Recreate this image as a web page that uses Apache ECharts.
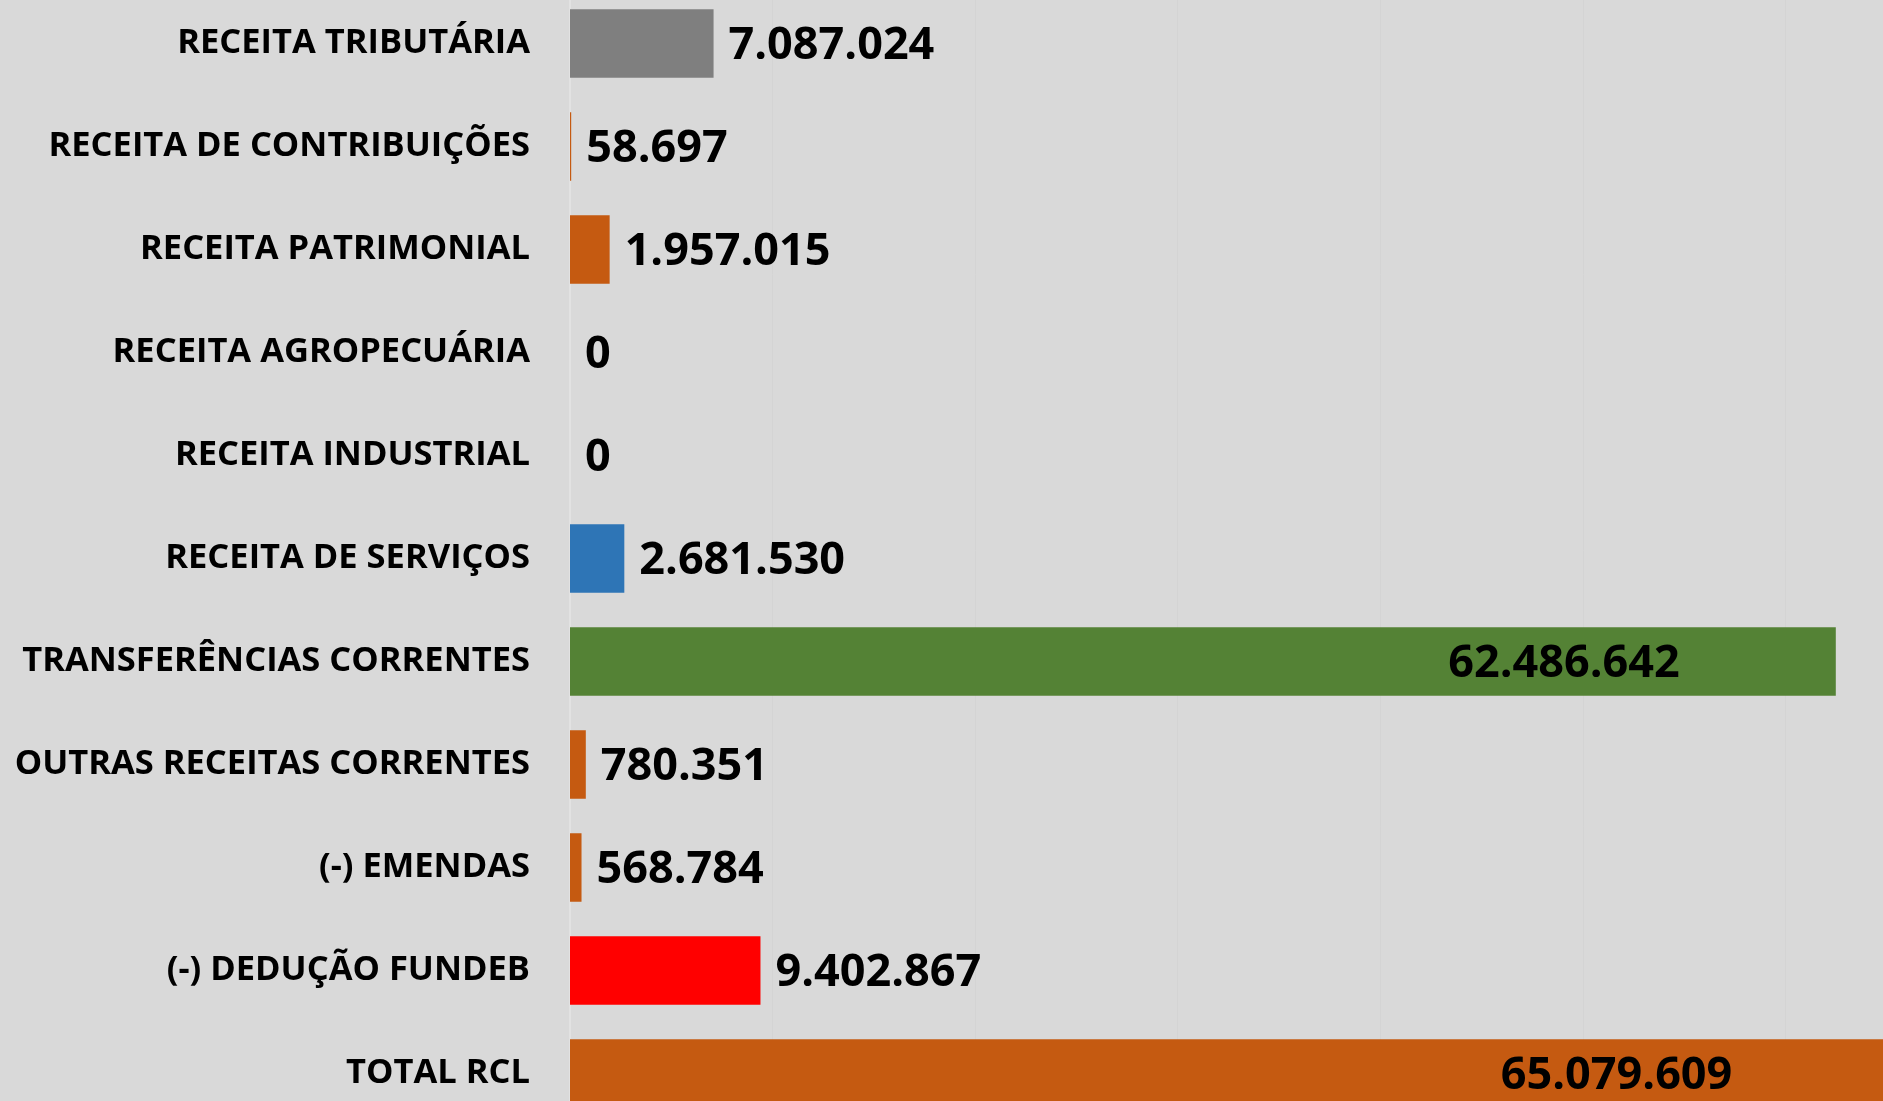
<!DOCTYPE html>
<html>
<head>
<meta charset="utf-8">
<script src="https://cdn.jsdelivr.net/npm/echarts@6/dist/echarts.min.js"></script>
<style>
  html, body { margin: 0; padding: 0; background: #d9d9d9; }
  #chart { width: 1883px; height: 1101px; }
</style>
</head>
<body>
<div id="chart"></div>
<script>
// categorias e valores da RCL
var categories = [
    'RECEITA TRIBUTÁRIA',
    'RECEITA DE CONTRIBUIÇÕES',
    'RECEITA PATRIMONIAL',
    'RECEITA AGROPECUÁRIA',
    'RECEITA INDUSTRIAL',
    'RECEITA DE SERVIÇOS',
    'TRANSFERÊNCIAS CORRENTES',
    'OUTRAS RECEITAS CORRENTES',
    '(-) EMENDAS',
    '(-) DEDUÇÃO FUNDEB',
    'TOTAL RCL'
];
var values = [7087024, 58697, 1957015, 0, 0, 2681530, 62486642, 780351, 568784, 9402867, 65079609];
var barColors = ['#7f7f7f', '#c55a11', '#c55a11', '#c55a11', '#c55a11', '#2e75b6', '#548235', '#c55a11', '#c55a11', '#ff0000', '#c55a11'];
var insideLabels = [6, 10];

function fmt(v) {
    return String(v).replace(/\B(?=(\d{3})+(?!\d))/g, '.');
}

var chart = echarts.init(document.getElementById('chart'));

var option = {
    backgroundColor: '#d9d9d9',
    animation: false,
    grid: {
        left: 570,
        width: 1418,
        top: -8,
        height: 1133,
        containLabel: false,
        outerBoundsMode: 'none'
    },
    xAxis: {
        type: 'value',
        min: 0,
        max: 70000000,
        interval: 10000000,
        axisLabel: { show: false },
        axisLine: { show: false },
        axisTick: { show: false },
        splitLine: { lineStyle: { color: '#d4d4d4', width: 1 } }
    },
    yAxis: {
        type: 'category',
        inverse: true,
        data: categories,
        axisLine: { show: true, lineStyle: { color: '#e2e2e2', width: 2 } },
        axisTick: { show: false },
        axisLabel: {
            margin: 40,
            color: '#000',
            fontFamily: 'Open Sans',
            fontWeight: 'bold',
            fontSize: 34.5,
            padding: [5, 0, 0, 0]
        }
    },
    series: [{
        type: 'bar',
        barWidth: '66.5%',
        data: values.map(function (v, i) {
            var inside = insideLabels.indexOf(i) >= 0;
            return {
                value: v,
                itemStyle: { color: barColors[i] },
                label: {
                    position: inside ? 'insideRight' : 'right',
                    distance: inside ? 156 : 15
                }
            };
        }),
        label: {
            show: true,
            color: '#000',
            fontFamily: 'Open Sans',
            fontWeight: 'bold',
            fontSize: 45,
            offset: [0, 3],
            formatter: function (p) { return fmt(p.value); }
        }
    }]
};

chart.setOption(option);
</script>
</body>
</html>
